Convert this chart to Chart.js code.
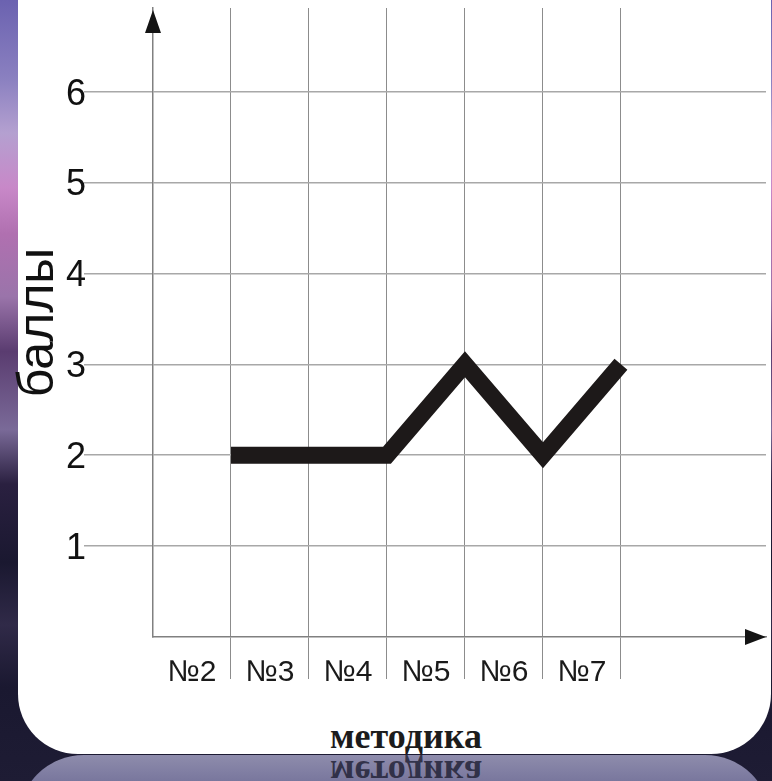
<!DOCTYPE html>
<html lang="ru">
<head>
    <meta charset="UTF-8">
    <title>баллы по методикам</title>
    <script src="https://cdn.jsdelivr.net/npm/chart.js"></script>
    <style>
        html, body { margin: 0; padding: 0; }
        body {
            width: 772px; height: 781px; overflow: hidden; position: relative;
            background: linear-gradient(180deg, #6b62b0 0%, #8a80c0 10%, #b4a0d0 17%, #c888c8 24%, #b070b0 30%,
                #9a74aa 38%, #5a3c70 45%, #7a6a98 55%, #2a2040 62%, #1a1830 72%, #302a48 80%, #1a1830 88%, #1e1c34 100%);
        }
        #panneau {
            position: absolute; left: 18px; top: -80px; width: 753px; height: 834px;
            background: #fff; border-radius: 0 0 60px 60px;
        }
        #reflet {
            position: absolute; left: 18px; top: 755px; width: 753px; height: 80px; overflow: hidden;
            background: linear-gradient(180deg, #8e8cac 0%, #74729a 40%, #5c5a80 100%);
            border-radius: 66px 66px 0 0;
        }
        #visiteursChart { position: absolute; left: 0; top: 0; }
        .titre {
            position: absolute; left: 206px; width: 400px; text-align: center;
            font: bold 36px "Liberation Serif", serif; line-height: 36px; color: #1c1c1c;
        }
        #titreX { top: 718px; }
        #titreReflet { top: 0px; left: 188px; transform: scaleY(-1); color: rgba(28, 28, 48, 0.8); }
    </style>
</head>
<body>
    <div id="panneau"></div>
    <div id="reflet"><div class="titre" id="titreReflet">методика</div></div>
    <div class="titre" id="titreX">методика</div>
    <canvas id="visiteursChart" width="772" height="700"></canvas>

    <script>
        const methodiki = ['№2', '№3', '№4', '№5', '№6', '№7'];
        const labelPos = [0.5, 1.5, 2.5, 3.5, 4.5, 5.5];   // подписи стоят между линиями сетки
        const pointPos = [1, 2, 3, 4, 5, 6];                // точки — на линиях сетки
        const bally = [2, 2, 2, 3, 2, 3];
        const yTicks = [1, 2, 3, 4, 5, 6];

        // стрелки на концах осей
        const fleches = {
            id: 'fleches',
            afterDraw(chart) {
                const { ctx, chartArea: a } = chart;
                const x0 = chart.scales.x.getPixelForValue(0);
                const y0 = chart.scales.y.getPixelForValue(0);
                ctx.save();
                ctx.fillStyle = '#141414';
                ctx.beginPath();
                ctx.moveTo(x0, a.top + 2);
                ctx.lineTo(x0 - 8, a.top + 25);
                ctx.lineTo(x0 + 8, a.top + 25);
                ctx.closePath();
                ctx.fill();
                ctx.beginPath();
                ctx.moveTo(a.right, y0);
                ctx.lineTo(a.right - 21, y0 - 8);
                ctx.lineTo(a.right - 21, y0 + 8);
                ctx.closePath();
                ctx.fill();
                ctx.restore();
            }
        };

        // без автоматических отступов под подписи
        const sansMarges = s => { s.paddingTop = 0; s.paddingBottom = 0; s.paddingLeft = 0; s.paddingRight = 0; };

        const ctx = document.getElementById('visiteursChart').getContext('2d');
        new Chart(ctx, {
            type: 'line',
            data: {
                datasets: [{
                    data: pointPos.map((x, i) => ({ x, y: bally[i] })),
                    borderColor: '#1d1919',
                    borderWidth: 17,
                    borderJoinStyle: 'miter',
                    borderCapStyle: 'butt',
                    pointRadius: 0,
                    tension: 0,
                    fill: false
                }]
            },
            options: {
                responsive: false,
                animation: false,
                layout: { padding: { top: 8, right: 6, left: 0, bottom: 0 } },
                plugins: { legend: { display: false }, tooltip: { enabled: false } },
                scales: {
                    x: {
                        type: 'linear', min: 0, max: 7.86,
                        afterBuildTicks: s => { s.ticks = labelPos.map(v => ({ value: v })); },
                        afterFit: s => { s.height = 63; sansMarges(s); },
                        ticks: {
                            callback: (v, i) => methodiki[i],
                            font: { family: 'Liberation Sans', size: 30 },
                            color: '#1a1a1a', padding: -24, maxRotation: 0, autoSkip: false
                        },
                        grid: {
                            offset: true, tickLength: 42, lineWidth: 1,
                            color: c => c.index === 0 ? 'rgba(0,0,0,0)' : '#8c8c8c'
                        },
                        border: { color: '#808080', width: 1.5 }
                    },
                    y: {
                        min: 0, max: 6.92,
                        afterBuildTicks: s => { s.ticks = yTicks.map(v => ({ value: v })); },
                        afterFit: s => { s.width = 153; sansMarges(s); },
                        ticks: {
                            font: { family: 'Liberation Sans', size: 36 },
                            color: '#111', padding: -2, labelOffset: 3
                        },
                        grid: { color: '#a8a8a8', lineWidth: 1.5, tickLength: 69 },
                        border: { color: '#808080', width: 1.5 },
                        title: {
                            display: true, text: 'баллы',
                            font: { family: 'Liberation Sans', size: 50 },
                            color: '#111', padding: { top: 9, bottom: 0 }
                        }
                    }
                }
            },
            plugins: [fleches]
        });
    </script>
</body>
</html>
